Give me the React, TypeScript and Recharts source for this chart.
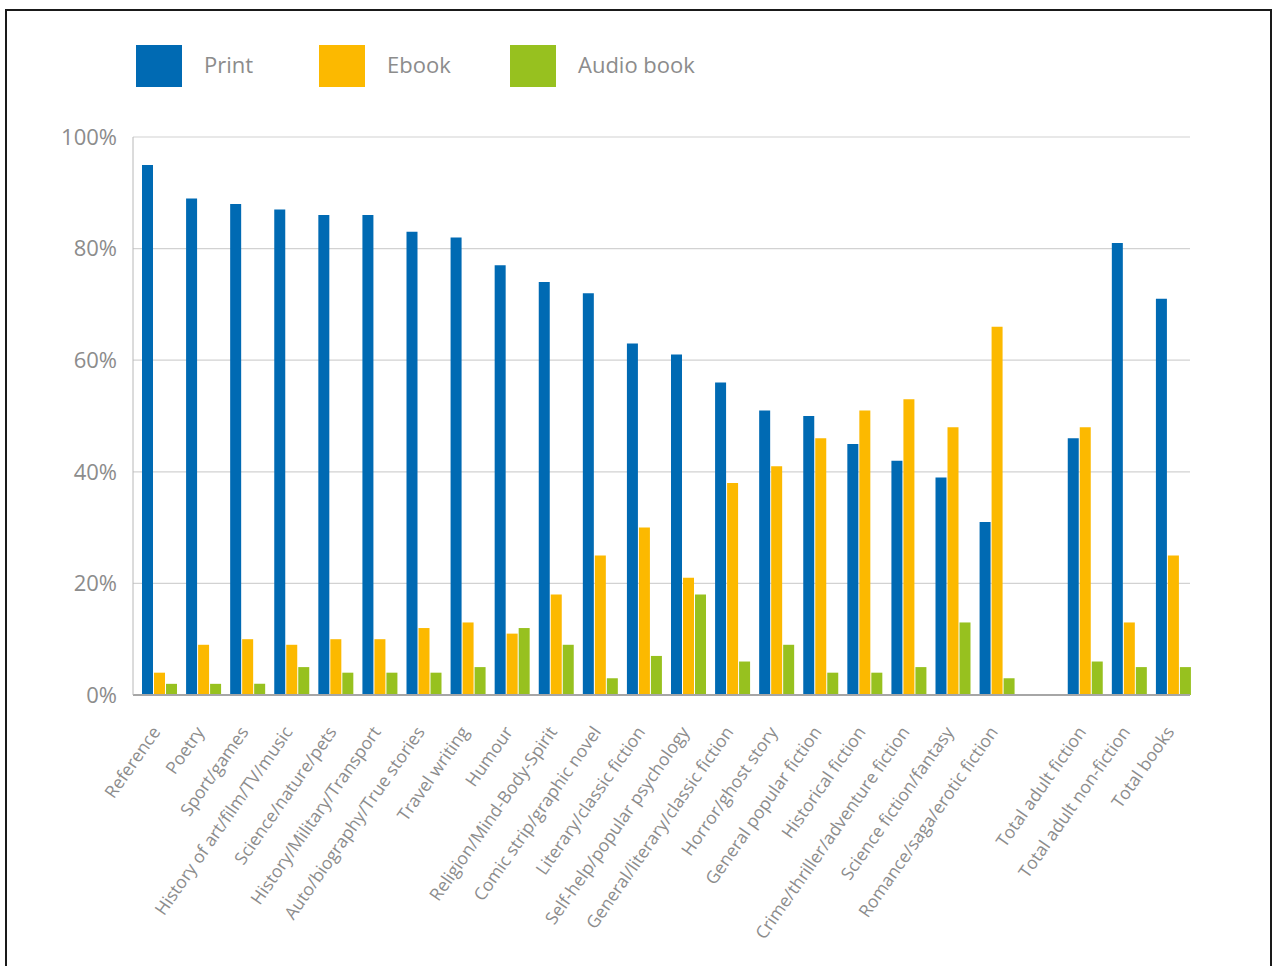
import React from 'react';
import { BarChart, Bar, XAxis, YAxis, CartesianGrid } from 'recharts';

const categories = [
  'Reference',
  'Poetry',
  'Sport/games',
  'History of art/film/TV/music',
  'Science/nature/pets',
  'History/Military/Transport',
  'Auto/biography/True stories',
  'Travel writing',
  'Humour',
  'Religion/Mind-Body-Spirit',
  'Comic strip/graphic novel',
  'Literary/classic fiction',
  'Self-help/popular psychology',
  'General/literary/classic fiction',
  'Horror/ghost story',
  'General popular fiction',
  'Historical fiction',
  'Crime/thriller/adventure fiction',
  'Science fiction/fantasy',
  'Romance/saga/erotic fiction',
  '',
  'Total adult fiction',
  'Total adult non-fiction',
  'Total books',
];

const printShare = [95, 89, 88, 87, 86, 86, 83, 82, 77, 74, 72, 63, 61, 56, 51, 50, 45, 42, 39, 31, null, 46, 81, 71];
const ebookShare = [4, 9, 10, 9, 10, 10, 12, 13, 11, 18, 25, 30, 21, 38, 41, 46, 51, 53, 48, 66, null, 48, 13, 25];
const audioShare = [2, 2, 2, 5, 4, 4, 4, 5, 12, 9, 3, 7, 18, 6, 9, 4, 4, 5, 13, 3, null, 6, 5, 5];

const yTicks = [0, 20, 40, 60, 80, 100];

const series = [
  { key: 'print', name: 'Print', color: '#006ab3' },
  { key: 'ebook', name: 'Ebook', color: '#fcb900' },
  { key: 'audio', name: 'Audio book', color: '#97c11f' },
];

const data = categories.map((name, i) => ({
  name,
  print: printShare[i],
  ebook: ebookShare[i],
  audio: audioShare[i],
}));

const FONT = '"Open Sans", "Liberation Sans", sans-serif';
const GREY = '#8c8c8c';

function CategoryTick(props: any) {
  const { x, y, payload } = props;
  return (
    <g transform={`translate(${x + 2},${y + 29})`}>
      <text
        x={0}
        y={0}
        transform="rotate(-55)"
        textAnchor="end"
        fill={GREY}
        fontSize={17.5}
        fontFamily={FONT}
      >
        {payload.value}
      </text>
    </g>
  );
}

// legend drawn by hand, the squares sit well left of the plot
const legendX = [129, 312, 503];

export default function App() {
  return (
    <div
      style={{
        position: 'fixed',
        left: 5,
        top: 9,
        width: 1267,
        height: 975,
        border: '2px solid #1a1a1a',
        boxSizing: 'border-box',
        background: '#fff',
      }}
    >
      <svg
        width={700}
        height={90}
        style={{ position: 'absolute', left: 0, top: 0 }}
      >
        {series.map((s, i) => (
          <g key={s.key}>
            <rect x={legendX[i]} y={34} width={46} height={42} fill={s.color} />
            <text
              x={legendX[i] + 68}
              y={62}
              fill={GREY}
              fontSize={22}
              fontFamily={FONT}
            >
              {s.name}
            </text>
          </g>
        ))}
      </svg>

      <div style={{ position: 'absolute', left: 0, top: 0 }}>
        <BarChart
          width={1262}
          height={950}
          data={data}
          margin={{ top: 126, right: 79, left: 0, bottom: 6 }}
          barCategoryGap={5}
          barGap={1}
        >
          <CartesianGrid vertical={false} stroke="#d2d2d2" strokeWidth={1.2} />

          <XAxis
            dataKey="name"
            interval={0}
            height={260}
            padding={{ left: 4, right: -5 }}
            tick={<CategoryTick />}
            tickLine={false}
            axisLine={{ stroke: '#a6a6a6', strokeWidth: 2 }}
          />

          <YAxis
            width={126}
            domain={[0, 100]}
            ticks={yTicks}
            tickFormatter={(v) => `${v}%`}
            tick={{ fill: GREY, fontSize: 22, fontFamily: FONT }}
            tickLine={false}
            tickSize={6}
            tickMargin={10}
            axisLine={{ stroke: '#b8b8b8' }}
          />

          {series.map((s) => (
            <Bar
              key={s.key}
              dataKey={s.key}
              name={s.name}
              fill={s.color}
              isAnimationActive={false}
            />
          ))}
        </BarChart>
      </div>
    </div>
  );
}
